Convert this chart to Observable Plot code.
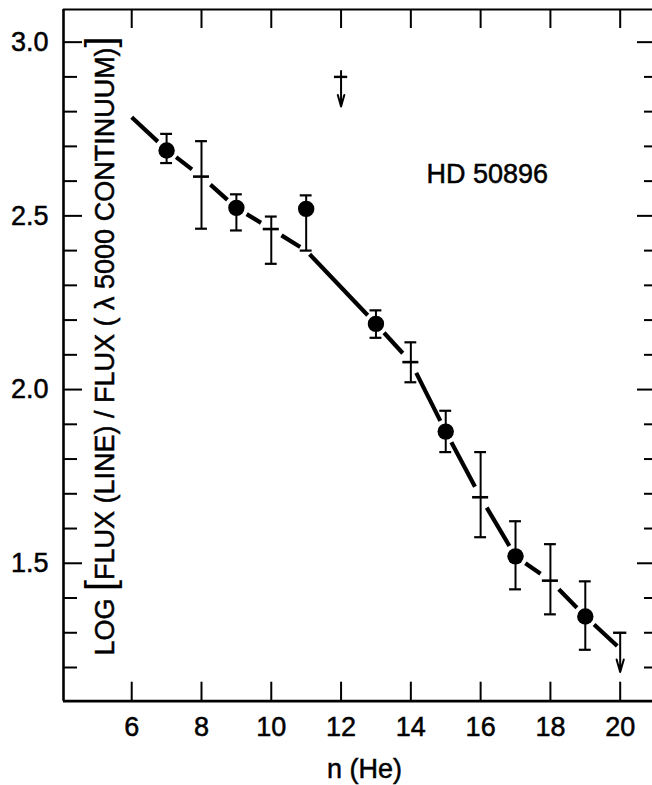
<!DOCTYPE html>
<html>
<head>
<meta charset="utf-8">
<script src="https://cdn.jsdelivr.net/npm/d3@7"></script>
<script src="https://cdn.jsdelivr.net/npm/@observablehq/plot@0.6"></script>
<style>
  html, body { margin: 0; padding: 0; background: #fff; }
  #chart svg text { stroke: #000; stroke-width: 0.5px; }
</style>
</head>
<body>
<div id="chart"></div>
<script>
// ---- data ----
const dotN  = [7, 9, 11, 13, 15, 17, 19];
const dotV  = [2.688, 2.523, 2.520, 2.189, 1.879, 1.520, 1.347];
const dotLo = [2.652, 2.458, 2.400, 2.149, 1.820, 1.425, 1.251];
const dotHi = [2.736, 2.562, 2.559, 2.228, 1.939, 1.621, 1.448];

const crossN  = [8, 10, 14, 16, 18];
const crossV  = [2.613, 2.462, 2.079, 1.690, 1.450];
const crossLo = [2.463, 2.362, 2.021, 1.575, 1.353];
const crossHi = [2.715, 2.498, 2.136, 1.820, 1.555];

const limitN   = [12, 20];
const limitV   = [2.900, 1.300];
const limitTop = [2.917, 1.300];
const limitTip = [2.815, 1.187];

const fitN = [6, 7, 8, 9, 10, 11, 13, 14, 15, 16, 17, 18, 19, 20];
const fitV = [2.784, 2.690, 2.613, 2.523, 2.462, 2.400, 2.189, 2.079, 1.879, 1.690, 1.520, 1.450, 1.347, 1.254];

const xTicks = [6, 8, 10, 12, 14, 16, 18, 20];
const xTickLabels = ["6", "8", "10", "12", "14", "16", "18", "20"];
const yTicks = [1.5, 2.0, 2.5, 3.0];
const yTickLabels = ["1.5", "2.0", "2.5", "3.0"];
const yMinorTicks = [1.2, 1.3, 1.4, 1.6, 1.7, 1.8, 1.9, 2.1, 2.2, 2.3, 2.4, 2.6, 2.7, 2.8, 2.9];

const xDomain = [4.045, 20.926];
const yDomain = [1.103, 3.094];

const xLabel = "n (He)";
const yLabel = "LOG [FLUX (LINE) / FLUX ( λ 5000 CONTINUUM)]";
const starLabel = "HD 50896";

// ---- layout ----
const W = 652, H = 785;
const mL = 63, mR = 0, mT = 9, mB = 84.3;
const FONT = "'Liberation Sans', Arial, Helvetica, sans-serif";

// ---- tables ----
const dots = dotN.map((n, i) => ({n, v: dotV[i], lo: dotLo[i], hi: dotHi[i]}));
const crosses = crossN.map((n, i) => ({n, v: crossV[i], lo: crossLo[i], hi: crossHi[i]}));
const limits = limitN.map((n, i) => ({n, v: limitV[i], top: limitTop[i], tip: limitTip[i]}));
const bars = dots.concat(crosses);

// the fitted curve is drawn broken at each measured point
const kx = (W - mL - mR) / (xDomain[1] - xDomain[0]);
const ky = (H - mT - mB) / (yDomain[1] - yDomain[0]);
const fit = fitN.map((n, i) => [n, fitV[i]]);
const segments = d3.pairs(fit).map(([a, b], i, arr) => {
  const slope = (b[1] - a[1]) / (b[0] - a[0]);
  const pxPerUnit = Math.hypot(kx, slope * ky);
  const gs = (i === 0 ? 0 : a[0] === 11 ? 5 : 12) / pxPerUnit;
  const ge = (i === arr.length - 1 ? 4 : b[0] === 11 ? 7 : 12) / pxPerUnit;
  return {x1: a[0] + gs, y1: a[1] + slope * gs, x2: b[0] - ge, y2: b[1] - slope * ge};
});

const capHalf = 0.17;
const crossHalf = 0.23;

const plot = Plot.plot({
  width: W, height: H,
  marginLeft: mL, marginRight: mR, marginTop: mT, marginBottom: mB,
  style: {fontFamily: FONT, background: "#fff", color: "#000", overflow: "visible"},
  x: {domain: xDomain},
  y: {domain: yDomain},
  marks: [
    // frame (left, bottom, top)
    Plot.ruleX([xDomain[0]], {strokeWidth: 2.6}),
    Plot.ruleY([yDomain[0]], {strokeWidth: 2.8}),
    Plot.ruleY([yDomain[1]], {strokeWidth: 2.2}),

    // y axis labels and inward ticks (left)
    Plot.axisY({ticks: yTicks, tickSize: 0, tickPadding: 15, fontSize: 27,
      tickFormat: d => yTickLabels[yTicks.indexOf(d)], label: null}),
    Plot.axisY({ticks: yTicks, tickSize: -19, strokeWidth: 2, tickFormat: () => "", label: null}),
    Plot.axisY({ticks: yMinorTicks, tickSize: -14, strokeWidth: 2, tickFormat: () => "", label: null}),
    // right side inward ticks
    Plot.axisY({anchor: "right", ticks: yTicks, tickSize: -16, strokeWidth: 2, tickFormat: () => "", label: null}),
    Plot.axisY({anchor: "right", ticks: yMinorTicks, tickSize: -9, strokeWidth: 2, tickFormat: () => "", label: null}),

    // x axis labels and inward ticks (bottom and top)
    Plot.axisX({ticks: xTicks, tickSize: 0, tickPadding: 16, fontSize: 27,
      tickFormat: d => xTickLabels[xTicks.indexOf(d)], label: null}),
    Plot.axisX({ticks: xTicks, tickSize: -19, strokeWidth: 2, tickFormat: () => "", label: null}),
    Plot.axisX({anchor: "top", ticks: xTicks, tickSize: -18, strokeWidth: 2, tickFormat: () => "", label: null}),

    // fitted curve
    Plot.link(segments, {x1: "x1", y1: "y1", x2: "x2", y2: "y2", strokeWidth: 4.2, strokeLinecap: "butt"}),

    // error bars
    Plot.ruleX(bars, {x: "n", y1: "lo", y2: "hi", strokeWidth: 2}),
    Plot.ruleY(bars, {y: "hi", x1: d => d.n - capHalf, x2: d => d.n + capHalf, strokeWidth: 2.2}),
    Plot.ruleY(bars, {y: "lo", x1: d => d.n - capHalf, x2: d => d.n + capHalf, strokeWidth: 2.2}),

    // crosses
    Plot.ruleY(crosses, {y: "v", x1: d => d.n - crossHalf, x2: d => d.n + crossHalf, strokeWidth: 2.6}),

    // filled points
    Plot.dot(dots, {x: "n", y: "v", r: 8.2, fill: "#000", stroke: "none"}),

    // upper limits
    Plot.arrow(limits, {x: "n", y1: "top", y2: "tip", strokeWidth: 2, headLength: 11, headAngle: 32}),
    Plot.ruleY(limits, {y: "v", x1: d => d.n - crossHalf + 0.04, x2: d => d.n + crossHalf - 0.04, strokeWidth: 2.4}),

    // texts
    Plot.text([starLabel], {text: d => d, frameAnchor: "top-right", dx: -165.3, dy: 173.3,
      textAnchor: "middle", lineAnchor: "bottom", fontSize: 27}),
    Plot.text([xLabel], {text: d => d, frameAnchor: "bottom", dx: 6.5, dy: 76.3,
      textAnchor: "middle", lineAnchor: "bottom", fontSize: 27}),
    Plot.text([yLabel], {text: d => d, frameAnchor: "left", dx: 50.5, dy: -9.4, rotate: -90,
      textAnchor: "middle", lineAnchor: "bottom", fontSize: 27})
  ]
});

// enlarge the square brackets of the y label (still real text)
const yText = Array.from(plot.querySelectorAll("text")).find(el => el.textContent === yLabel);
if (yText) {
  yText.textContent = "";
  for (const part of yLabel.split(/([\[\]])/)) {
    if (!part) continue;
    const ts = document.createElementNS("http://www.w3.org/2000/svg", "tspan");
    ts.textContent = part;
    if (part === "[" || part === "]") { ts.setAttribute("font-size", 40); ts.setAttribute("stroke-width", 0); }
    yText.appendChild(ts);
  }
}

document.getElementById("chart").appendChild(plot);
</script>
</body>
</html>
